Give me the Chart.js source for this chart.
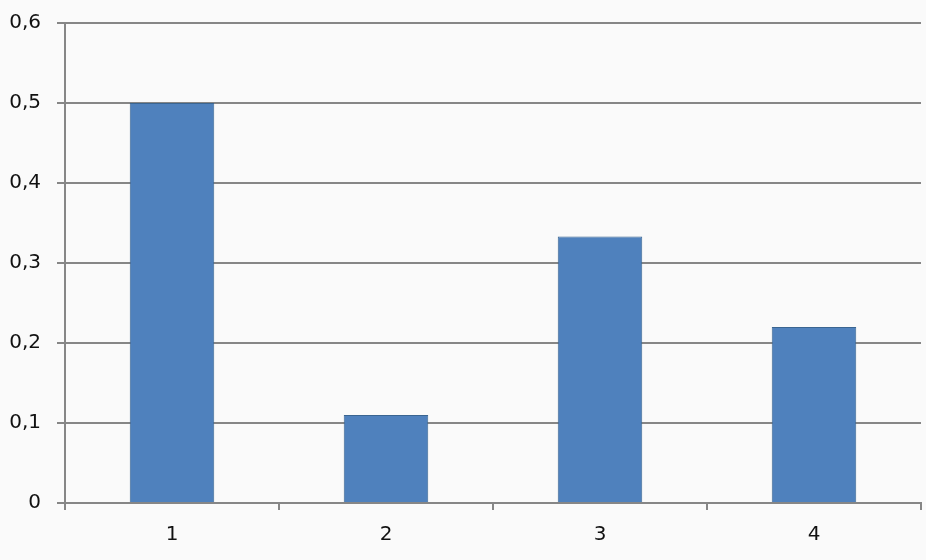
<!DOCTYPE html>
<html>
<head>
<meta charset="utf-8">
<script src="https://cdn.jsdelivr.net/npm/chart.js@4/dist/chart.umd.min.js"></script>
<style>
  html, body { margin: 0; padding: 0; background: #fafafa; }
  #wrap { width: 926px; height: 560px; }
</style>
</head>
<body>
<div id="wrap"><canvas id="chart" width="926" height="560"></canvas></div>
<script>
var categories = ['1', '2', '3', '4'];
var values = [0.5, 0.11, 0.333, 0.22];

// fill the canvas with the light grey background
var bgPlugin = {
  id: 'bg',
  beforeDraw: function(chart) {
    var ctx = chart.ctx;
    ctx.save();
    ctx.fillStyle = '#fafafa';
    ctx.fillRect(0, 0, chart.width, chart.height);
    ctx.restore();
  }
};

new Chart(document.getElementById('chart'), {
  type: 'bar',
  data: {
    labels: categories,
    datasets: [{
      data: values,
      backgroundColor: '#4f81bd',
      borderColor: '#3a6591',
      borderWidth: 1,
      barPercentage: 0.395,
      categoryPercentage: 1
    }]
  },
  options: {
    responsive: false,
    animation: false,
    layout: { padding: { left: 0, right: 5, top: 23, bottom: 0 } },
    plugins: { legend: { display: false }, tooltip: { enabled: false } },
    scales: {
      x: {
        offset: true,
        grid: { offset: true, drawOnChartArea: false, drawTicks: true, tickLength: 7, color: '#868686', lineWidth: 2 },
        border: { color: '#868686', width: 2 },
        ticks: { color: '#111', font: { family: 'DejaVu Sans', size: 20 }, padding: 13 },
        afterFit: function(scale) { scale.height = 57; scale.paddingLeft = 0; scale.paddingRight = 0; }
      },
      y: {
        min: 0,
        max: 0.6,
        grid: { color: '#868686', lineWidth: 2, tickLength: 8 },
        border: { color: '#868686', width: 2 },
        ticks: {
          stepSize: 0.1,
          color: '#111',
          font: { family: 'DejaVu Sans', size: 20 },
          padding: 16,
          callback: function(v) { return v === 0 ? '0' : v.toFixed(1).replace('.', ','); }
        },
        afterFit: function(scale) { scale.width = 65; scale.paddingTop = 0; scale.paddingBottom = 0; }
      }
    }
  },
  plugins: [bgPlugin]
});
</script>
</body>
</html>
